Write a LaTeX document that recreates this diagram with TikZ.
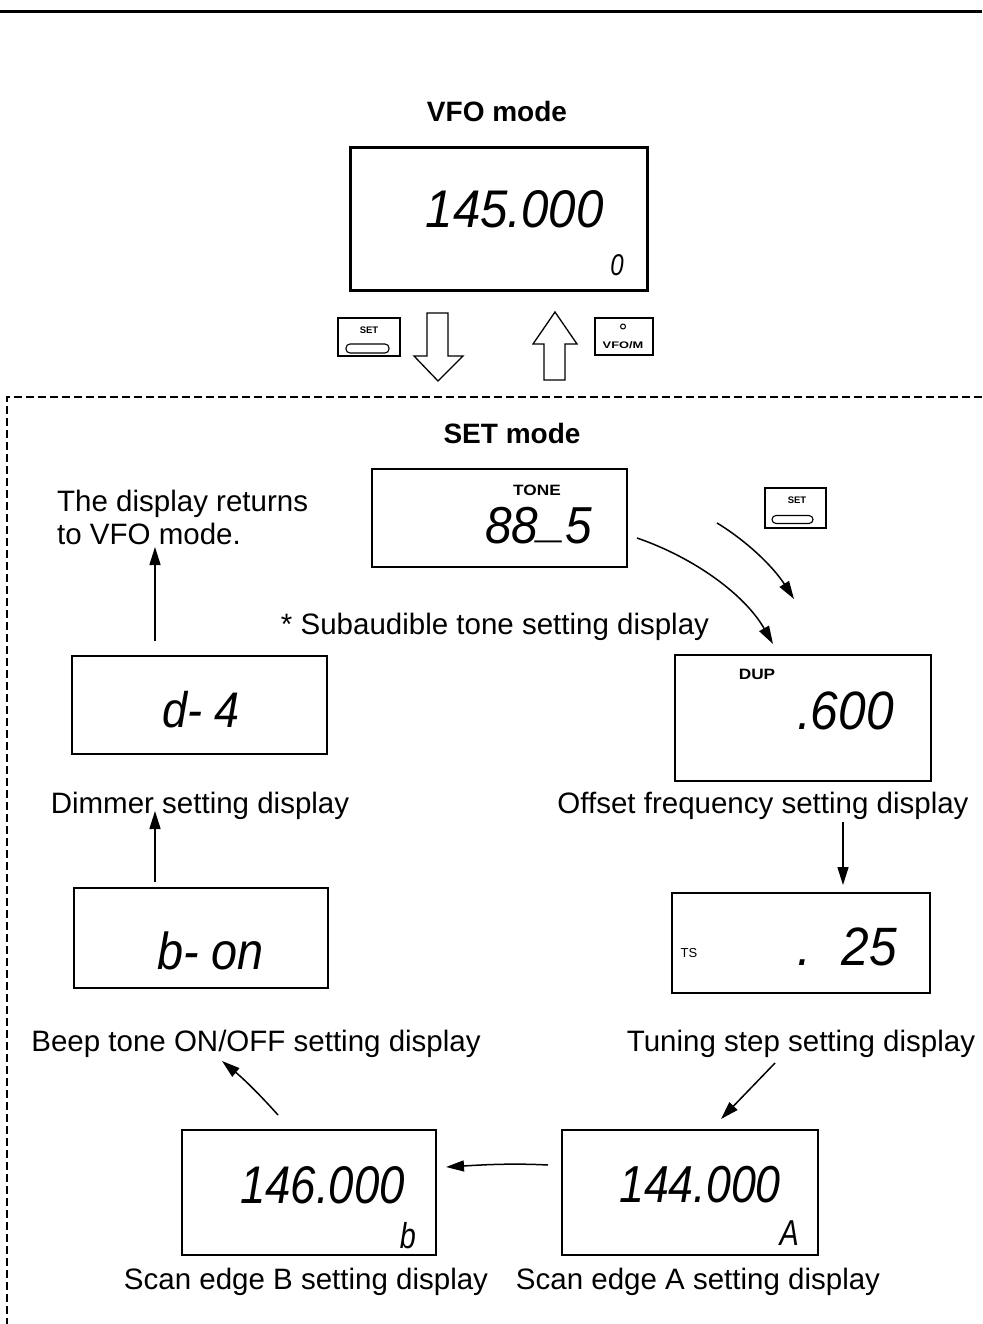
\documentclass[tikz,border=0pt]{standalone}
\usepackage{fontspec}
\usepackage{graphicx}
\setmainfont{Liberation Sans}
\usetikzlibrary{arrows.meta}
\newcommand\lcd[3]{\fontsize{#1}{#1}\selectfont\itshape\scalebox{#2}[1]{#3}}
\begin{document}
\begin{tikzpicture}[x=1pt,y=-1pt,
  every node/.style={inner sep=0pt},
  disp/.style={draw,line width=2.5pt},
  captxt/.style={anchor=base,font=\fontsize{29.5}{33}\selectfont},
  captb/.style={anchor=base,font=\bfseries\fontsize{28}{30}\selectfont},
  segtxt/.style={anchor=base east},
  btn/.style={draw,line width=1.2pt,minimum width=62pt,minimum height=38pt},
  ovalbtn/.style={draw,line width=1.1pt,rounded corners=4pt},
  btntxt/.style={font=\bfseries\fontsize{9.5}{10}\selectfont},
  hollow/.style={draw,line width=1.3pt,fill=white,line join=miter},
  arr/.style={line width=1.5pt,-{Triangle[length=18pt,width=11pt]}}]
\useasboundingbox (0,0) rectangle (982,1324);

% top rule
\draw[line width=3pt] (0,12) -- (982,12);

% VFO mode
\node[captb] (vfot) at (497,122) {VFO mode};
\node[disp,line width=3pt,minimum width=297pt,minimum height=142pt] (vfo) at (498.5,219) {};
\node[segtxt] (vfod) at (604,228) {\lcd{53}{0.93}{145.000}};
\node[segtxt] (vfoc) at (624,275) {\lcd{30}{0.8}{0}};

% buttons and hollow arrows
\node[btn] (setb) at (369,337) {};
\node[btntxt] (setbt) at (369,330) {SET};
\node[ovalbtn,minimum width=43pt,minimum height=9pt] (setbo) at (367.5,348.5) {};
\node[btn,minimum width=58pt,minimum height=37pt] (vfom) at (624,336.5) {};
\draw[line width=1pt] (623,326.5) circle (2.5pt);
\node[btntxt] (vfomt) at (623,345) {\scalebox{1.35}[1]{VFO/M}};

\draw[hollow] (427,313) -- (448,313) -- (448,356) -- (463,356) -- (438,381)
  -- (414,356) -- (427,356) -- cycle;
\draw[hollow] (555,312) -- (577,344) -- (565,344) -- (565,380) -- (544,380)
  -- (544,344) -- (533,344) -- cycle;

% SET mode dashed frame
\draw[line width=2pt,dash pattern=on 8pt off 4pt] (982,397) -- (7,397) -- (7,1324);
\node[captb] (sett) at (512,443) {SET mode};

% tone
\node[disp,minimum width=255pt,minimum height=98pt] (tone) at (499.5,518) {};
\node[font=\bfseries\fontsize{15}{15}\selectfont] (tonet) at (537,490) {\scalebox{1.15}[1]{TONE}};
\node[segtxt] (toned) at (592,543) {\lcd{52}{0.92}{88\raisebox{0.12em}{\_}5}};
\node[captxt] (tonec) at (495,634) {* Subaudible tone setting display};

\node[anchor=north west,align=left,font=\fontsize{29.5}{33}\selectfont] (ret) at (57,490)
  {The display returns\\to VFO mode.};

\node[btn,minimum width=61pt,minimum height=40pt] (setr) at (795.5,508) {};
\node[btntxt] (setrt) at (797,500) {SET};
\node[ovalbtn,minimum width=41pt,minimum height=8pt] (setro) at (792.5,519.5) {};

% dimmer
\node[disp,minimum width=255pt,minimum height=98pt] (dim) at (199.5,705) {};
\node[segtxt] (dimd) at (240,727) {\lcd{50}{0.9}{d- 4}};
\node[captxt] (dimc) at (200,813) {Dimmer setting display};

% offset
\node[disp,minimum width=256pt,minimum height=126pt] (off) at (803,718) {};
\node[font=\bfseries\fontsize{15}{15}\selectfont] (offt) at (757,674) {\scalebox{1.15}[1]{DUP}};
\node[segtxt] (offd) at (894,729) {\lcd{54}{0.92}{.600}};
\node[captxt] (offc) at (763,813) {Offset frequency setting display};

% beep
\node[disp,minimum width=254pt,minimum height=100pt] (beep) at (201,938) {};
\node[segtxt] (beepd) at (264,969) {\lcd{52}{0.9}{b- on}};
\node[captxt] (beepc) at (256,1051) {Beep tone ON/OFF setting display};

% tuning step
\node[disp,minimum width=258pt,minimum height=100pt] (ts) at (801,943) {};
\node[font=\fontsize{13}{13}\selectfont] (tst) at (689,953) {TS};
\node[segtxt] (tsd) at (897,965) {\lcd{54}{0.92}{.\hspace{0.6em}25}};
\node[captxt] (tsc) at (801,1051) {Tuning step setting display};

% scan edges
\node[disp,minimum width=254pt,minimum height=125pt] (scb) at (309,1192.5) {};
\node[segtxt] (scbd) at (405,1203) {\lcd{53}{0.86}{146.000}};
\node[segtxt] (scbc) at (416,1248) {\lcd{36}{0.8}{b}};
\node[captxt] (scbt) at (306,1289) {Scan edge B setting display};

\node[disp,minimum width=256pt,minimum height=125pt] (sca) at (690,1192.5) {};
\node[segtxt] (scad) at (781,1202) {\lcd{52}{0.86}{144.000}};
\node[segtxt] (scac) at (799,1245) {\lcd{36}{0.8}{A}};
\node[captxt] (scat) at (698,1289) {Scan edge A setting display};

% connectors
\coordinate (r1) at (155,641);
\coordinate (r2) at (155,547);
\draw[arr] (r1) -- (r2);

\coordinate (b1) at (155,882);
\coordinate (b2) at (155,811);
\draw[arr] (b1) -- (b2);

\coordinate (o1) at (843,822);
\coordinate (o2) at (843,885);
\draw[arr] (o1) -- (o2);

\coordinate (t1) at (775,1063);
\coordinate (t2) at (721,1119);
\draw[arr] (t1) -- (t2);

\coordinate (a1) at (548,1165);
\coordinate (a2) at (446,1167);
\draw[arr] (a1) .. controls (510,1163) and (480,1165) .. (a2);

\coordinate (s1) at (278,1115);
\coordinate (s2) at (222,1061);
\draw[arr] (s1) .. controls (262,1097) and (245,1080) .. (s2);

\coordinate (c1) at (637,538);
\coordinate (c2) at (773,644);
\draw[arr] (c1) .. controls (695,558) and (745,595) .. (c2);

\coordinate (d1) at (717,523);
\coordinate (d2) at (794,599);
\draw[arr] (d1) .. controls (745,540) and (772,565) .. (d2);
\end{tikzpicture}
\end{document}
